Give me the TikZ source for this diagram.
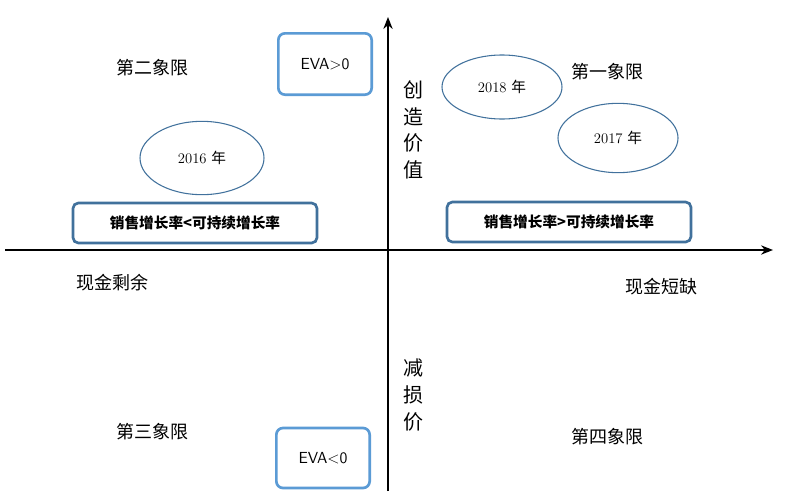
\documentclass[tikz,border=0pt]{standalone}
\usepackage{fontspec}
\newfontfamily\cjk{Noto Sans CJK SC}
\usetikzlibrary{arrows.meta}
\definecolor{lb}{HTML}{5B9BD5}
\definecolor{db}{HTML}{41719C}
\tikzset{
 evabox/.style={draw=lb,line width=2pt,rounded corners=5pt,fill=white},
 ratebox/.style={draw=db,line width=2pt,rounded corners=4pt,fill=white,font=\cjk\bfseries\fontsize{11}{13}\selectfont},
 yr/.style={draw=db,line width=0.8pt,ellipse},
 lbl/.style={font=\cjk\fontsize{13.5}{16}\selectfont},
 ax/.style={line width=1pt,-{Stealth[length=9pt,width=7pt]}}
}
\usetikzlibrary{shapes.geometric}
\begin{document}
\begin{tikzpicture}[x=0.75pt,y=-0.75pt]
\useasboundingbox (0,0) rectangle (799,493);
\coordinate (xl) at (5,250); \coordinate (xr) at (773,250);
\coordinate (yb) at (388,491); \coordinate (yt) at (388,17);
\draw[ax] (xl) -- (xr);
\draw[ax] (yb) -- (yt);
\node[evabox,minimum width=70pt,minimum height=46pt] (e1) at (325,64) {\fontsize{12}{14}\selectfont\sffamily EVA>0};
\node[evabox,minimum width=70pt,minimum height=45pt] (e2) at (323,458) {\fontsize{12}{14}\selectfont\sffamily EVA<0};
\node[yr,minimum width=93pt,minimum height=55pt] (y16) at (202,158) {\fontsize{11}{13}\selectfont 2016 {\cjk 年}};
\node[yr,minimum width=90pt,minimum height=48pt] (y18) at (502,87) {\fontsize{11}{13}\selectfont 2018 {\cjk 年}};
\node[yr,minimum width=90pt,minimum height=52pt] (y17) at (618,138) {\fontsize{11}{13}\selectfont 2017 {\cjk 年}};
\node[ratebox,minimum width=183pt,minimum height=30pt] (r1) at (195,223) {销售增长率<可持续增长率};
\node[ratebox,minimum width=183pt,minimum height=30pt] (r2) at (569,222) {销售增长率>可持续增长率};
\node[lbl] (q2) at (152,68) {第二象限};
\node[lbl] (q1) at (607,72) {第一象限};
\node[lbl] (q3) at (152,432) {第三象限};
\node[lbl] (q4) at (607,437) {第四象限};
\node[lbl] (s1) at (112,283) {现金剩余};
\node[lbl] (s2) at (661,287) {现金短缺};
\node[lbl,align=center,font=\cjk\fontsize{15}{20}\selectfont] (cz) at (413,130) {创\\造\\价\\值};
\node[lbl,align=center,font=\cjk\fontsize{15}{20}\selectfont] (js) at (413,395) {减\\损\\价};
\end{tikzpicture}
\end{document}
